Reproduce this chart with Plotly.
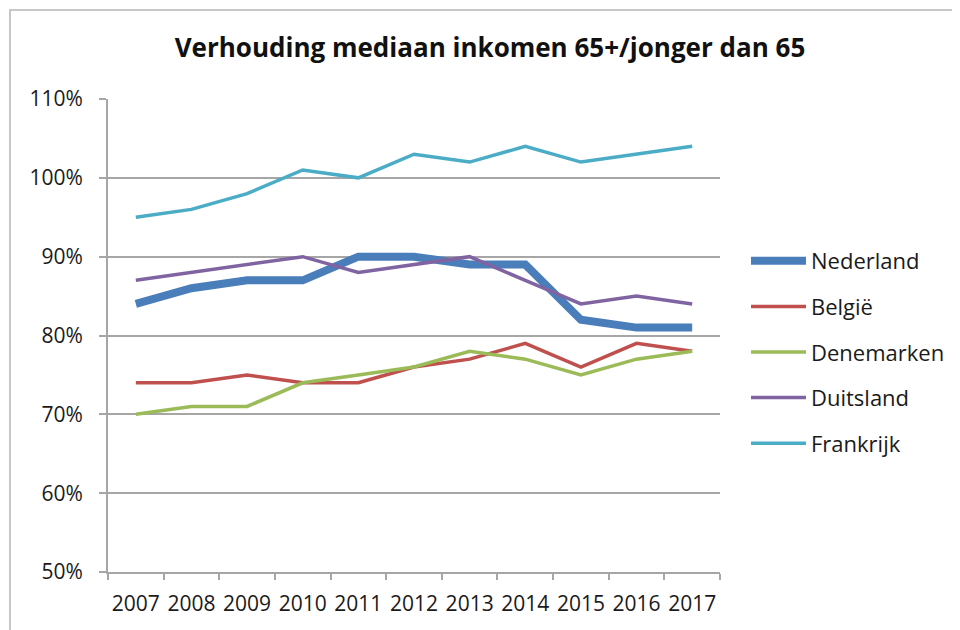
import plotly.graph_objects as go

years = ["2007", "2008", "2009", "2010", "2011", "2012", "2013", "2014", "2015", "2016", "2017"]
nederland = [0.84, 0.86, 0.87, 0.87, 0.90, 0.90, 0.89, 0.89, 0.82, 0.81, 0.81]
belgie = [0.74, 0.74, 0.75, 0.74, 0.74, 0.76, 0.77, 0.79, 0.76, 0.79, 0.78]
denemarken = [0.70, 0.71, 0.71, 0.74, 0.75, 0.76, 0.78, 0.77, 0.75, 0.77, 0.78]
duitsland = [0.87, 0.88, 0.89, 0.90, 0.88, 0.89, 0.90, 0.87, 0.84, 0.85, 0.84]
frankrijk = [0.95, 0.96, 0.98, 1.01, 1.00, 1.03, 1.02, 1.04, 1.02, 1.03, 1.04]

series = [
    ("Nederland", nederland, "#4A7EBB", 8),
    ("België", belgie, "#C0504D", 3.5),
    ("Denemarken", denemarken, "#9BBB59", 3.5),
    ("Duitsland", duitsland, "#8064A2", 3.5),
    ("Frankrijk", frankrijk, "#4BACC6", 3.5),
]

FONT = "'Open Sans', 'Noto Sans', sans-serif"

fig = go.Figure()
for name, vals, color, w in series:
    fig.add_trace(go.Scatter(
        x=years, y=vals, name=name, mode="lines", legendgroup=name,
        line=dict(color=color, width=w),
    ))

# page has an 8px body margin; plot area target in screenshot: x 108-720, y 99-572
fig.update_layout(
    width=960, height=630,
    margin=dict(l=100, r=248, t=91, b=66, autoexpand=False),
    paper_bgcolor="white", plot_bgcolor="white",
    font=dict(family=FONT, color="#1a1a1a", size=21),
    title=dict(
        text="<b>Verhouding mediaan inkomen 65+/jonger dan 65</b>",
        x=(490 - 8) / 960, xanchor="center", xref="container",
        y=1 - (48 - 8) / 630, yanchor="middle", yref="container",
        font=dict(family=FONT, size=26, color="#111111"),
    ),
    showlegend=True,
    legend=dict(
        x=(746 - 108) / 612, xanchor="left", y=(572 - 240) / 473, yanchor="top",
        font=dict(family=FONT, size=22, color="#1a1a1a"),
        traceorder="grouped", tracegroupgap=14, itemwidth=55,
        bgcolor="rgba(0,0,0,0)",
    ),
    xaxis=dict(
        type="category", tickson="boundaries", ticks="outside", ticklen=6,
        tickcolor="#A6A6A6", tickwidth=2, tickangle=0, automargin=False,
        showline=True, linecolor="#A6A6A6", linewidth=2,
        showgrid=False, tickfont=dict(size=21), range=[-0.5, 10.5],
        ticklabelstandoff=12,
    ),
    yaxis=dict(
        range=[0.5, 1.1], dtick=0.1, tickformat=".0%", automargin=False,
        ticks="outside", ticklen=7, tickcolor="#A6A6A6", tickwidth=2,
        showline=True, linecolor="#A6A6A6", linewidth=2,
        showgrid=True, gridcolor="#A6A6A6", gridwidth=2,
        zeroline=False, tickfont=dict(size=21), ticklabelstandoff=12,
    ),
    shapes=[dict(
        type="rect", xref="paper", yref="paper",
        x0=(10 - 108) / 612, x1=1.6, y0=-0.3, y1=(572 - 10) / 473,
        line=dict(color="#C8C8C8", width=2), fillcolor="rgba(0,0,0,0)", layer="below",
    )],
)

fig.write_html("out.html")
